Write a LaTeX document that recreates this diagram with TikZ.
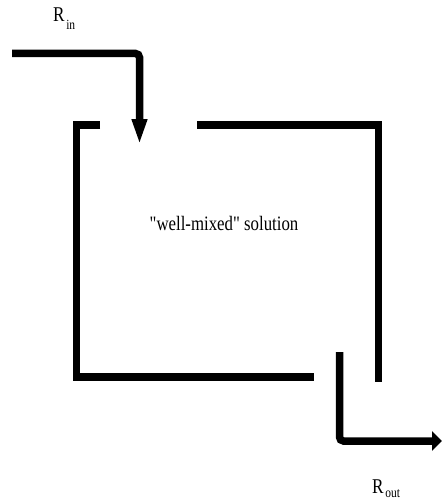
\documentclass[tikz,border=0pt]{standalone}
\usepackage{fontspec}
\setmainfont{Liberation Serif}
\newfontfamily\plainserif{Liberation Serif}[Ligatures=ResetAll]
\usetikzlibrary{arrows.meta}
\begin{document}
\begin{tikzpicture}[x=1pt,y=-1pt,
  wall/.style={line width=7.5pt,line join=miter,line cap=butt},
  pipe/.style={line width=7.5pt,rounded corners=4pt},
  lbl/.style={inner sep=0pt,xscale=0.82}]
\useasboundingbox (0,0) rectangle (442,503);
% inflow
\coordinate (inS) at (12,53.5);
\coordinate (inC) at (139.5,53.5);
\coordinate (inE) at (139.5,145);
\draw[pipe,-{Triangle[length=26pt,width=14pt]}] (inS) -- (inC) -- (inE);
% tank walls
\coordinate (a1) at (100,125);
\coordinate (a2) at (76.5,125);
\coordinate (a3) at (76.5,377);
\coordinate (a4) at (314,377);
\draw[wall] (a1) -- (a2) -- (a3) -- (a4);
\coordinate (b1) at (197,125);
\coordinate (b2) at (378.5,125);
\coordinate (b3) at (378.5,382);
\draw[wall] (b1) -- (b2) -- (b3);
% outflow
\coordinate (oS) at (339.5,352);
\coordinate (oC) at (339.5,441);
\coordinate (oE) at (442,441);
\draw[pipe,-{Triangle[length=10pt,width=19pt]}] (oS) -- (oC) -- (oE);
% labels
\node[lbl,anchor=base west] (rin) at (53,22)
  {\fontsize{21}{21}\selectfont R\hspace{2pt}\raisebox{-8pt}{\fontsize{14}{14}\selectfont in}};
\node[lbl,anchor=base west] (rout) at (372,493)
  {\fontsize{21}{21}\selectfont R\hspace{2pt}\raisebox{-4pt}{\fontsize{14}{14}\selectfont out}};
\node[lbl,anchor=base] (sol) at (224,230)
  {\plainserif\fontsize{20.5}{20.5}\selectfont "well-mixed" solution};
\end{tikzpicture}
\end{document}
